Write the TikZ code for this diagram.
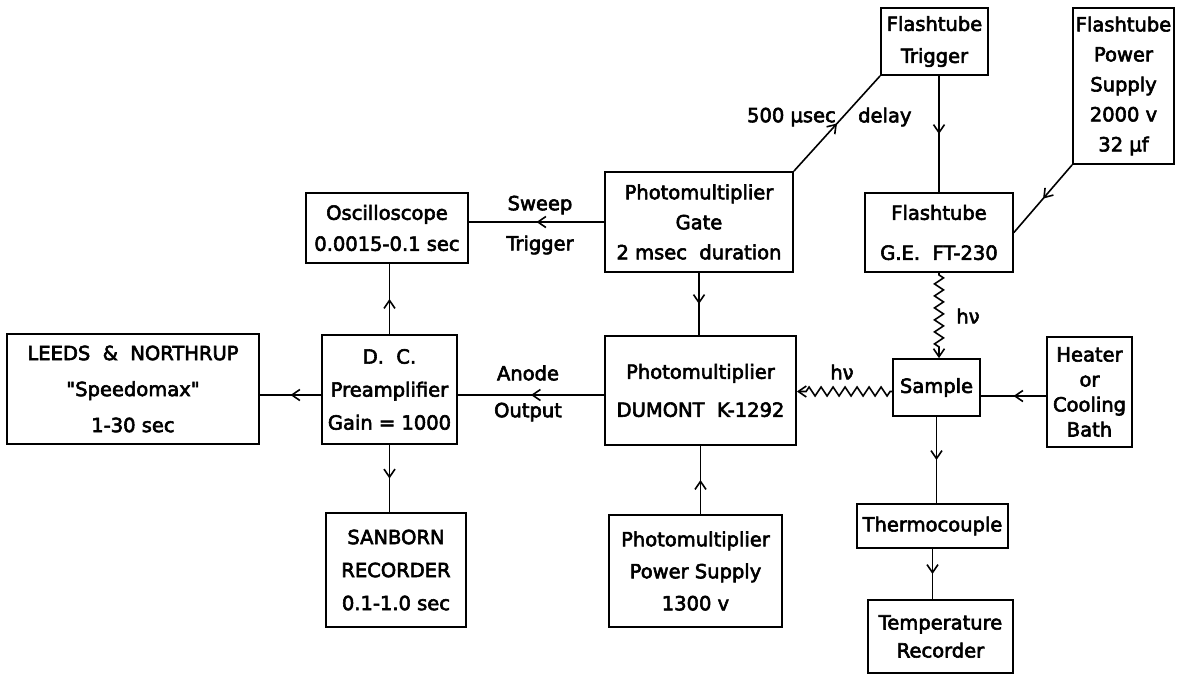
\documentclass[tikz,border=0pt]{standalone}
\usepackage{fontspec}
\setmainfont{DejaVu Sans}[Ligatures=TeXOff,FakeBold=3]
\usetikzlibrary{arrows.meta,decorations.markings,decorations.pathmorphing}
\begin{document}
\begin{tikzpicture}[x=1pt,y=-1pt,
 box/.style={draw, line width=1.8pt, inner sep=0pt, align=center, font=\fontsize{19.5}{32}\selectfont},
 lsp/.style={font=\fontsize{19.5}{#1}\selectfont},
 lbl/.style={inner sep=0pt, font=\fontsize{19.5}{23}\selectfont},
 conn/.style={line width=1.6pt},
 midarrow/.style={conn, postaction={decorate}, decoration={markings, mark=at position 0.5 with {\arrow{Straight Barb[length=8pt,width=11pt,line width=1.6pt]}}}},
 wave/.style={conn, decorate, decoration={zigzag, amplitude=4.5pt, segment length=12pt, pre length=2pt, post length=6pt}, -{Straight Barb[length=8pt,width=11pt,line width=1.6pt]}},
]
\fill[white] (0,0) rectangle (1181,675);
\useasboundingbox (0,0) rectangle (1181,675);

% boxes
\node[box, minimum width=107pt, minimum height=67pt] (trig) at (934.5,41.5) {Flashtube\\Trigger};
\node[box, lsp=30, minimum width=101pt, minimum height=156pt] (ps) at (1123.5,86) {Flashtube\\Power\\Supply\\2000 v\\32 µf};
\node[box, lsp=30, minimum width=188pt, minimum height=100pt] (gate) at (699,222) {Photomultiplier\\Gate\\2 msec\ \ duration};
\node[box, lsp=31, minimum width=162pt, minimum height=70pt] (osc) at (387,228) {Oscilloscope\\0.0015-0.1 sec};
\node[box, lsp=40, minimum width=148pt, minimum height=79pt] (ft) at (939,232.5) {Flashtube\\G.E.\ \ FT-230};
\node[box, lsp=36, minimum width=252pt, minimum height=110pt] (leeds) at (133,389) {LEEDS\ \ \&\ \ NORTHRUP\\"Speedomax"\\1-30 sec};
\node[box, lsp=33, minimum width=135pt, minimum height=109pt] (pre) at (389.5,389.5) {D.\ \ C.\\Preamplifier\\Gain = 1000};
\node[box, lsp=38, minimum width=191pt, minimum height=109pt] (dum) at (700.5,390.5) {Photomultiplier\\DUMONT\ \ K-1292};
\node[box, minimum width=87pt, minimum height=57pt] (sample) at (936.5,387.5) {Sample};
\node[box, lsp=25, minimum width=85pt, minimum height=110pt] (heat) at (1089.5,392) {Heater\\or\\Cooling\\Bath};
\node[box, lsp=33, minimum width=140pt, minimum height=114pt] (sanborn) at (396,570) {SANBORN\\RECORDER\\0.1-1.0 sec};
\node[box, lsp=32, minimum width=173pt, minimum height=112pt] (pmps) at (695.5,571) {Photomultiplier\\Power Supply\\1300 v};
\node[box, minimum width=151pt, minimum height=44pt] (thermo) at (932.5,526) {Thermocouple};
\node[box, lsp=28, minimum width=145pt, minimum height=73pt] (temp) at (940.5,636.5) {Temperature\\Recorder};

% connectors
\draw[midarrow] (gate.west) -- (gate.west -| osc.east);
\draw[midarrow] (gate.north east) -- (trig.south west);
\draw[midarrow] (trig.south -| ft.north) -- (ft.north);
\draw[midarrow] (ps.south west) -- (ft.east);
\draw[midarrow] (gate.south) -- (gate.south |- dum.north);
\draw[wave] (ft.south) -- (ft.south |- sample.north);
\draw[wave] ([yshift=-4pt]sample.west) -- ([yshift=-4pt]sample.west -| dum.east);
\draw[midarrow] ([yshift=-4pt]heat.west) -- ([yshift=-4pt]heat.west -| sample.east);
\draw[midarrow] (sample.south) -- (sample.south |- thermo.north);
\draw[midarrow] (thermo.south) -- (thermo.south |- temp.north);
\draw[midarrow] ([yshift=-4.5pt]dum.west) -- ([yshift=-4.5pt]dum.west -| pre.east);
\draw[midarrow] ([yshift=-5.5pt]pre.west) -- ([yshift=-5.5pt]pre.west -| leeds.east);
\draw[midarrow] (pre.north) -- (pre.north |- osc.south);
\draw[midarrow] (pre.south) -- (pre.south |- sanborn.north);
\draw[midarrow] (pmps.north -| dum.south) -- (dum.south);

% labels
\node[lbl] (sweep) at (540,205) {Sweep};
\node[lbl] (trg) at (540,245) {Trigger};
\node[lbl, anchor=east] (del1) at (836,117) {500 µsec};
\node[lbl, anchor=west] (del2) at (858,117) {delay};
\node[lbl] (hv1) at (968,316) {hν};
\node[lbl] (hv2) at (842,372) {hν};
\node[lbl] (anode) at (528,373) {Anode};
\node[lbl] (outp) at (528,412) {Output};
\end{tikzpicture}
\end{document}
